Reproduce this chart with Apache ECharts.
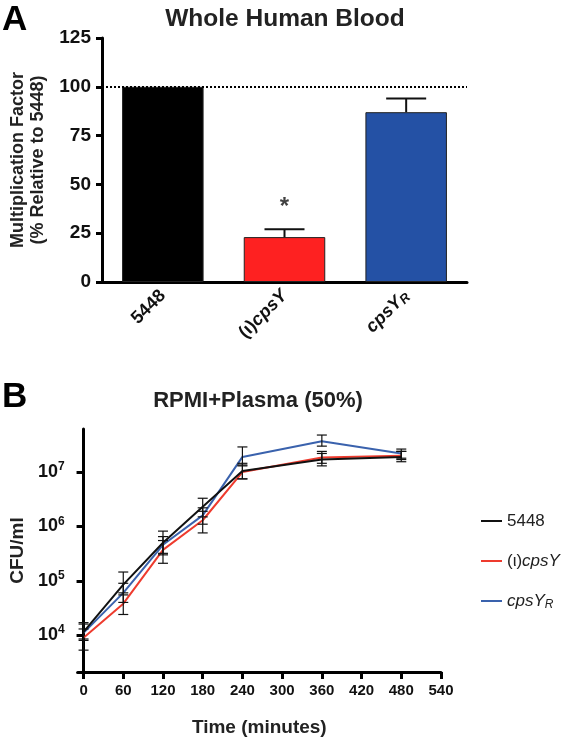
<!DOCTYPE html>
<html><head><meta charset="utf-8">
<script src="https://cdn.jsdelivr.net/npm/echarts@6/dist/echarts.min.js"></script>
<style>html,body{margin:0;padding:0;background:#fff}#c{width:566px;height:742px}</style>
</head><body><div id="c"></div>
<script>
const FONT = '"Liberation Sans", Arial, Helvetica, sans-serif';

// ---------- Panel A data ----------
const strainsA = ['5448', '(ι)cpsY', 'cpsY_R'];
const multFactor = [100, 23, 87];
const multFactorErr = [0, 4, 7];
const significance = [null, 40, null];
const refLineA = 100;

// ---------- Panel B data ----------
const timeMin = [0, 60, 120, 180, 240, 360, 480];
const xTicksB = [0, 60, 120, 180, 240, 300, 360, 420, 480, 540];
const yTicksB = [1e4, 1e5, 1e6, 1e7];
const namesB = ['5448', '(ι)cpsY', 'cpsY_R'];
const cfu5448 = [1.15e4, 8.5e4, 5.0e5, 2.3e6, 1.05e7, 1.7e7, 1.9e7];
const cfu5448Lo = [8.5e3, 5.5e4, 3.0e5, 1.5e6, 7.5e6, 1.3e7, 1.55e7];
const cfu5448Hi = [1.7e4, 1.45e5, 8.2e5, 3.3e6, 1.45e7, 2.2e7, 2.4e7];
const cfuCpsY = [9e3, 3.8e4, 3.7e5, 1.3e6, 1.0e7, 1.85e7, 2.0e7];
const cfuCpsYLo = [5.3e3, 2.4e4, 2.1e5, 7.6e5, 7.5e6, 1.45e7, 1.7e7];
const cfuCpsYHi = [1.3e4, 6e4, 5.5e5, 1.9e6, 1.3e7, 2.4e7, 2.4e7];
const cfuCpsYR = [1.1e4, 6e4, 4.6e5, 1.6e6, 1.9e7, 3.7e7, 2.2e7];
const cfuCpsYRLo = [8e3, 4e4, 3.2e5, 1.1e6, 1.35e7, 3.0e7, 1.8e7];
const cfuCpsYRHi = [1.6e4, 9e4, 6.5e5, 2.2e6, 2.9e7, 4.8e7, 2.65e7];

const barColors = ['#000000', '#fe2121', '#2451a5'];
const lineColors = ['#111111', '#ee3b2e', '#3a62ad'];

function fmtName(name, p) {
  if (name.indexOf('cpsY') < 0) return '{' + p + 'n|' + name + '}';
  let out = '';
  let rest = name;
  if (rest.startsWith('(ι)')) { out += '{' + p + 'n|(ι)}'; rest = rest.slice(3); }
  const parts = rest.split('_');
  out += '{' + p + 'i|' + parts[0] + '}';
  if (parts[1]) out += '{' + p + 's|' + parts[1] + '}';
  return out;
}

function errBar(capHalf, lw, both) {
  return function (params, api) {
    const x = api.value(0), lo = api.value(1), hi = api.value(2);
    if (hi === lo) return null;
    const pHi = api.coord([x, hi]);
    const pLo = api.coord([x, lo]);
    const st = { stroke: '#111', lineWidth: lw };
    const ch = [
      { type: 'line', shape: { x1: pHi[0], y1: pHi[1], x2: pLo[0], y2: pLo[1] }, style: st },
      { type: 'line', shape: { x1: pHi[0] - capHalf, y1: pHi[1], x2: pHi[0] + capHalf, y2: pHi[1] }, style: st }
    ];
    if (both) ch.push({ type: 'line', shape: { x1: pLo[0] - capHalf, y1: pLo[1], x2: pLo[0] + capHalf, y2: pLo[1] }, style: st });
    return { type: 'group', children: ch };
  };
}

const chart = echarts.init(document.getElementById('c'), null, { renderer: 'canvas' });

const bSets = [
  [cfu5448, cfu5448Lo, cfu5448Hi],
  [cfuCpsY, cfuCpsYLo, cfuCpsYHi],
  [cfuCpsYR, cfuCpsYRLo, cfuCpsYRHi]
];

const seriesB = [];
[2, 1, 0].forEach(k => {
  seriesB.push({
    type: 'line', name: namesB[k], xAxisIndex: 1, yAxisIndex: 1,
    data: timeMin.map((t, i) => [t, bSets[k][0][i]]),
    showSymbol: false, symbol: 'none',
    lineStyle: { color: lineColors[k], width: 2 },
    itemStyle: { color: lineColors[k] },
    z: 3
  });
});
[0, 1, 2].forEach(k => {
  seriesB.push({
    type: 'custom', xAxisIndex: 1, yAxisIndex: 1,
    renderItem: errBar(5, 1.2, true),
    data: timeMin.map((t, i) => [t, bSets[k][1][i], bSets[k][2][i]]),
    z: 4, silent: true
  });
});

const option = {
  animation: false,
  backgroundColor: '#fff',
  textStyle: { fontFamily: FONT },
  graphic: [
    { type: 'text', x: 2, y: 20, style: { text: 'A', font: 'bold 35px ' + FONT, fill: '#000', align: 'left', verticalAlign: 'middle' } },
    { type: 'text', x: 285, y: 19, style: { text: 'Whole Human Blood', font: 'bold 24.5px ' + FONT, fill: '#222', align: 'center', verticalAlign: 'middle' } },
    { type: 'text', x: 2, y: 397, style: { text: 'B', font: 'bold 35px ' + FONT, fill: '#000', align: 'left', verticalAlign: 'middle' } },
    { type: 'text', x: 258, y: 401, style: { text: 'RPMI+Plasma (50%)', font: 'bold 22px ' + FONT, fill: '#222', align: 'center', verticalAlign: 'middle' } }
  ],
  legend: {
    data: namesB,
    orient: 'vertical', left: 476, top: 506,
    icon: 'rect', itemWidth: 21, itemHeight: 2, itemGap: 20,
    selectedMode: false,
    formatter: n => fmtName(n, 'l'),
    textStyle: {
      fontFamily: FONT, fontSize: 17, color: '#222', lineHeight: 20,
      rich: {
        ln: { fontFamily: FONT, fontSize: 17, color: '#222', lineHeight: 20 },
        li: { fontFamily: FONT, fontSize: 17, fontStyle: 'italic', color: '#222', lineHeight: 20 },
        ls: { fontFamily: FONT, fontSize: 12, fontStyle: 'italic', color: '#222', lineHeight: 12, verticalAlign: 'bottom' }
      }
    }
  },
  grid: [
    { left: 102, right: 99, top: 38, height: 244 },
    { left: 76, right: 125, top: 429, height: 243 }
  ],
  xAxis: [
    {
      type: 'category', gridIndex: 0, data: strainsA,
      axisLine: { lineStyle: { color: '#000', width: 3 } },
      axisTick: { show: false },
      axisLabel: {
        rotate: 45, margin: 11, color: '#111',
        formatter: v => fmtName(v, 'a'),
        rich: {
          an: { fontFamily: FONT, fontSize: 18, fontWeight: 'bold', color: '#111', lineHeight: 20 },
          ai: { fontFamily: FONT, fontSize: 18, fontWeight: 'bold', fontStyle: 'italic', color: '#111', lineHeight: 20 },
          as: { fontFamily: FONT, fontSize: 13, fontWeight: 'bold', fontStyle: 'italic', color: '#111', lineHeight: 12, verticalAlign: 'bottom' }
        }
      }
    },
    {
      type: 'value', gridIndex: 1, min: -9, max: 540,
      name: 'Time (minutes)', nameLocation: 'middle', nameGap: 46,
      nameTextStyle: { fontFamily: FONT, fontSize: 19, fontWeight: 'bold', color: '#222' },
      axisLine: { lineStyle: { color: '#000', width: 3 } },
      axisTick: { customValues: xTicksB, length: 7, lineStyle: { color: '#000', width: 3 } },
      axisLabel: { customValues: xTicksB, margin: 11, fontFamily: FONT, fontSize: 15, fontWeight: 'bold', color: '#111' },
      splitLine: { show: false }
    }
  ],
  yAxis: [
    {
      type: 'value', gridIndex: 0, min: 0, max: 125, interval: 25,
      name: 'Multiplication Factor\n(% Relative to 5448)', nameLocation: 'middle', nameGap: 52, nameRotate: 90,
      nameTextStyle: { fontFamily: FONT, fontSize: 18, fontWeight: 'bold', color: '#222', lineHeight: 20 },
      axisLine: { show: true, lineStyle: { color: '#000', width: 3 } },
      axisTick: { show: true, length: 6, lineStyle: { color: '#000', width: 3 } },
      axisLabel: { margin: 11, fontFamily: FONT, fontSize: 19, fontWeight: 'bold', color: '#111' },
      splitLine: { show: false }
    },
    {
      type: 'log', logBase: 10, gridIndex: 1, min: 2100, max: 6.2e7,
      name: 'CFU/ml', nameLocation: 'middle', nameGap: 44, nameRotate: 90,
      nameTextStyle: { fontFamily: FONT, fontSize: 19, fontWeight: 'bold', color: '#222' },
      axisLine: { show: true, lineStyle: { color: '#000', width: 3 } },
      axisTick: { show: true, customValues: yTicksB, length: 7, lineStyle: { color: '#000', width: 3 } },
      axisLabel: {
        customValues: yTicksB, margin: 13,
        formatter: v => '{b|10}{s|' + Math.round(Math.log10(v)) + '}',
        rich: {
          b: { fontFamily: FONT, fontSize: 18, fontWeight: 'bold', color: '#111', lineHeight: 22 },
          s: { fontFamily: FONT, fontSize: 12, fontWeight: 'bold', color: '#111', lineHeight: 10, verticalAlign: 'top' }
        }
      },
      splitLine: { show: false }
    }
  ],
  series: [
    {
      type: 'bar', xAxisIndex: 0, yAxisIndex: 0,
      data: multFactor.map((v, i) => ({ value: v, itemStyle: { color: barColors[i] } })),
      barWidth: '67%',
      itemStyle: { borderColor: '#222', borderWidth: 1 },
      markLine: {
        silent: true, symbol: 'none', label: { show: false },
        lineStyle: { type: 'dotted', color: '#000', width: 2 },
        data: [{ yAxis: refLineA }]
      }
    },
    {
      type: 'custom', xAxisIndex: 0, yAxisIndex: 0,
      renderItem: errBar(20, 2, false),
      data: multFactor.map((v, i) => [i, v, v + multFactorErr[i]]),
      z: 5, silent: true
    },
    {
      type: 'scatter', xAxisIndex: 0, yAxisIndex: 0,
      data: significance.map((v, i) => v == null ? null : [i, v]).filter(d => d),
      symbolSize: 1, itemStyle: { color: 'rgba(0,0,0,0)' },
      label: { show: true, position: 'inside', offset: [0, 3], formatter: '*', fontFamily: FONT, fontSize: 24, fontWeight: 'bold', color: '#111' },
      silent: true
    }
  ].concat(seriesB)
};
chart.setOption(option);
</script>
</body></html>
